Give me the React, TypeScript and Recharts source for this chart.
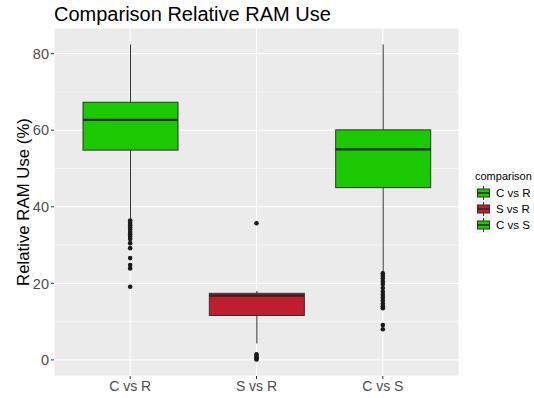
import React from "react";
import {
  ComposedChart,
  Bar,
  Scatter,
  XAxis,
  YAxis,
  CartesianGrid,
} from "recharts";

const CATEGORIES = ["C vs R", "S vs R", "C vs S"];
const LOWER_WHISKER = [36.6, 4.3, 22.8];
const Q1 = [54.8, 11.6, 45.0];
const MEDIAN = [62.7, 16.8, 55.0];
const Q3 = [67.3, 17.4, 60.1];
const UPPER_WHISKER = [82.4, 18.0, 82.4];
const FILLS = ["#1AC900", "#BE1E2D", "#1AC900"];

const OUTLIERS_C_R = [
  36.4, 35.8, 35.2, 34.6, 34.0, 33.4, 32.8, 32.2, 31.6, 30.5, 29.2, 26.6, 24.8,
  23.9, 19.1,
];
const OUTLIERS_S_R = [35.7, 1.5, 1.0, 0.6, 0.3, 0.1];
const OUTLIERS_C_S = [
  22.6, 22.0, 21.3, 20.5, 19.8, 18.8, 17.8, 17.0, 16.3, 15.5, 14.7, 14.0, 13.5,
  9.1, 8.0,
];

const Y_TICKS = [0, 20, 40, 60, 80];
const MINOR_Y = [10, 30, 50, 70];

const FONT = "'Liberation Sans', Arial, sans-serif";

const boxData = CATEGORIES.map((name, i) => ({
  name,
  box: [Q1[i], Q3[i]],
  lo: LOWER_WHISKER[i],
  q1: Q1[i],
  med: MEDIAN[i],
  q3: Q3[i],
  hi: UPPER_WHISKER[i],
  fill: FILLS[i],
}));

const outlierData = [
  ...OUTLIERS_C_R.map((value) => ({ name: CATEGORIES[0], value })),
  ...OUTLIERS_S_R.map((value) => ({ name: CATEGORIES[1], value })),
  ...OUTLIERS_C_S.map((value) => ({ name: CATEGORIES[2], value })),
];

// box drawn from the q1..q3 bar; whiskers/median use the same px-per-unit
const BoxShape = (props: any) => {
  const { x, y, width, height, payload } = props;
  const top = Math.min(y, y + height);
  const h = Math.abs(height);
  const unit = h / (payload.q3 - payload.q1);
  const yOf = (v: number) => top + (payload.q3 - v) * unit;
  const cx = x + width / 2;
  return (
    <g>
      <line x1={cx} x2={cx} y1={yOf(payload.hi)} y2={yOf(payload.lo)} stroke="#333" strokeWidth={1} />
      <rect x={x} y={top} width={width} height={h} fill={payload.fill} stroke="#333" strokeWidth={1} />
      <line x1={x} x2={x + width} y1={yOf(payload.med)} y2={yOf(payload.med)} stroke="#262626" strokeWidth={2.2} />
    </g>
  );
};

const LegendKey = ({ fill }: { fill: string }) => (
  <svg width={17} height={16} style={{ display: "block" }}>
    <rect x={0} y={0} width={17} height={16} fill="#F2F2F2" />
    <line x1={8.5} x2={8.5} y1={1} y2={15} stroke="#333" strokeWidth={1} />
    <rect x={2.5} y={4} width={12} height={8} fill={fill} stroke="#333" strokeWidth={1} />
    <line x1={2.5} x2={14.5} y1={8} y2={8} stroke="#262626" strokeWidth={1.5} />
  </svg>
);

export default function App() {
  return (
    <div style={{ position: "absolute", left: 0, top: 0, width: 534, height: 398, background: "#fff", fontFamily: FONT }}>
      <div style={{ position: "absolute", left: 54, top: 3, fontSize: 20, color: "#000", whiteSpace: "nowrap" }}>
        Comparison Relative RAM Use
      </div>
      <div
        style={{
          position: "absolute",
          left: 24,
          top: 202,
          transform: "translate(-50%, -50%) rotate(-90deg)",
          fontSize: 16.8,
          color: "#000",
          whiteSpace: "nowrap",
        }}
      >
        Relative RAM Use (%)
      </div>
      <ComposedChart
        width={534}
        height={398}
        data={boxData}
        margin={{ top: 28, right: 75, bottom: 0, left: 0 }}
      >
        <CartesianGrid
          fill="#EBEBEB"
          fillOpacity={1}
          vertical={false}
          horizontalValues={MINOR_Y}
          stroke="#FFFFFF"
          strokeWidth={0.55}
        />
        <CartesianGrid stroke="#FFFFFF" strokeWidth={1.1} />
        <XAxis
          dataKey="name"
          type="category"
          allowDuplicatedCategory={false}
          padding={{ left: 13, right: 13 }}
          height={22}
          axisLine={false}
          tickSize={3}
          tickMargin={2}
          tickLine={{ stroke: "#333" }}
          tick={{ fill: "#4D4D4D", fontSize: 14, fontFamily: FONT }}
        />
        <YAxis
          type="number"
          domain={[-4.2, 86.7]}
          ticks={Y_TICKS}
          width={54}
          axisLine={false}
          tickSize={3}
          tickMargin={2}
          tickLine={{ stroke: "#333" }}
          tick={{ fill: "#4D4D4D", fontSize: 14.5, fontFamily: FONT }}
          allowDataOverflow
        />
        <Bar dataKey="box" barSize={95} shape={BoxShape} isAnimationActive={false} />
        <Scatter
          data={outlierData}
          dataKey="value"
          fill="#1A1A1A"
          shape={(p: any) => <circle cx={p.cx} cy={p.cy} r={2.3} fill="#1A1A1A" />}
          isAnimationActive={false}
        />
      </ComposedChart>
      <div style={{ position: "absolute", left: 475, top: 170 }}>
        <div style={{ fontSize: 11, color: "#000", marginBottom: 3 }}>comparison</div>
        {CATEGORIES.map((c, i) => (
          <div key={c} style={{ display: "flex", alignItems: "center", height: 16 }}>
            <LegendKey fill={FILLS[i]} />
            <span style={{ fontSize: 11.5, marginLeft: 4, color: "#000" }}>{c}</span>
          </div>
        ))}
      </div>
    </div>
  );
}
